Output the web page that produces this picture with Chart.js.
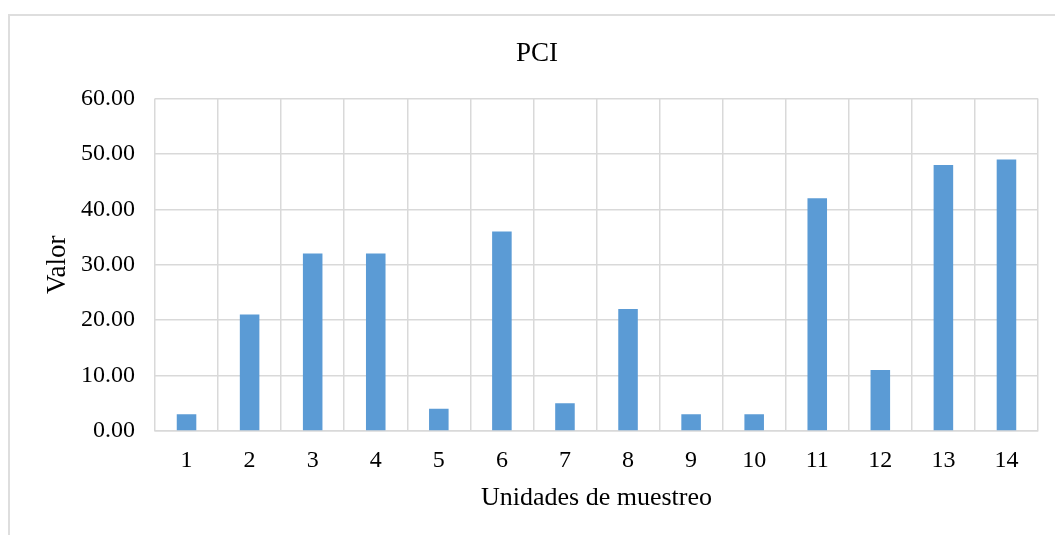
<!DOCTYPE html>
<html lang="es">
<head>
    <meta charset="UTF-8">
    <title>PCI</title>
    <script src="https://cdn.jsdelivr.net/npm/chart.js"></script>
    <style>
        body { margin: 0; background: #fff; overflow: hidden; }
        .marco {
            position: absolute;
            left: 8px;
            top: 14px;
            width: 2000px;
            height: 2000px;
            border-left: 2px solid #dedede;
            border-top: 2px solid #dedede;
        }
        #grafico { position: absolute; left: 0; top: 0; }
    </style>
</head>
<body>
    <div class="marco"></div>
    <canvas id="grafico" width="1055" height="535"></canvas>

    <script>
    // datos del grafico
    const unidades = ['1', '2', '3', '4', '5', '6', '7', '8', '9', '10', '11', '12', '13', '14'];
    const valores = [3, 21, 32, 32, 4, 36, 5, 22, 3, 3, 42, 11, 48, 49];
    const ejeY = { min: 0, max: 60, paso: 10 };

    const fuente = '"Liberation Serif", "Times New Roman", serif';
    const gris = '#d9d9d9';

    const ctx = document.getElementById('grafico');

    new Chart(ctx, {
        type: 'bar',
        data: {
            labels: unidades,
            datasets: [{
                label: 'PCI',
                data: valores,
                backgroundColor: '#5b9bd5',
                categoryPercentage: 1,
                barPercentage: 0.31
            }]
        },
        options: {
            responsive: false,
            animation: false,
            // padding izquierdo para centrar el titulo como en el original
            layout: { padding: { left: 36, right: 17, top: 0, bottom: 0 } },
            plugins: {
                legend: { display: false },
                tooltip: { enabled: false },
                title: {
                    display: true,
                    text: 'PCI',
                    color: '#000',
                    font: { family: fuente, size: 27, weight: 'normal' },
                    padding: { top: 38, bottom: 28 }
                }
            },
            scales: {
                x: {
                    grid: { color: gris, lineWidth: 1.5, drawTicks: false, offset: true },
                    border: { color: gris, width: 1.5 },
                    ticks: { color: '#000', padding: 15, font: { family: fuente, size: 24 } },
                    title: {
                        display: true,
                        text: 'Unidades de muestreo',
                        color: '#000',
                        font: { family: fuente, size: 26 },
                        padding: { top: 0, bottom: 21 }
                    },
                    afterFit: function (scale) { scale.height = 104; }
                },
                y: {
                    min: ejeY.min,
                    max: ejeY.max,
                    grid: { color: gris, lineWidth: 1.5, drawTicks: false },
                    border: { display: false },
                    ticks: {
                        stepSize: ejeY.paso,
                        color: '#000',
                        padding: 20,
                        font: { family: fuente, size: 24 },
                        callback: function (v) { return v.toFixed(2); }
                    },
                    title: {
                        display: true,
                        text: 'Valor',
                        color: '#000',
                        font: { family: fuente, size: 27 },
                        padding: { top: 6, bottom: 0 }
                    },
                    afterFit: function (scale) { scale.width = 119; }
                }
            }
        }
    });
    </script>
</body>
</html>
